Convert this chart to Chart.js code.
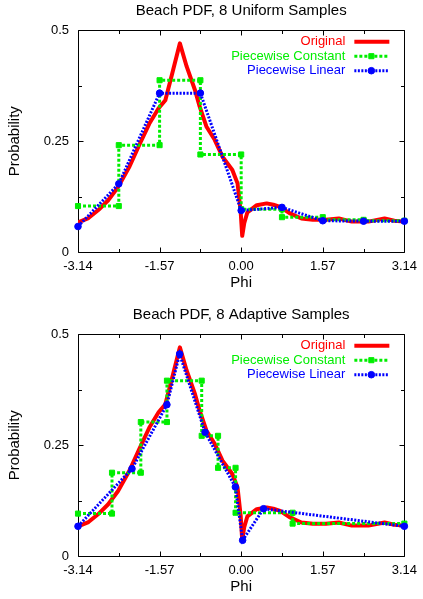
<!DOCTYPE html>
<html>
<head>
<meta charset="utf-8">
<script src="https://cdn.jsdelivr.net/npm/chart.js@4/dist/chart.umd.min.js"></script>
<style>
    html, body { margin: 0; padding: 0; background: #fff; overflow: hidden; }
    .grafico { position: absolute; left: 0; width: 423px; height: 300px; }
</style>
</head>
<body>
<div class="grafico" style="top:0"><canvas id="uniforme"></canvas></div>
<div class="grafico" style="top:304px"><canvas id="adaptativo"></canvas></div>
<script>
// curva original
const originalPhi = [-3.1416, -2.94, -2.75, -2.56, -2.37, -2.15, -1.96, -1.77, -1.59, -1.46, -1.33, -1.18, -1.05, -0.89, -0.80, -0.67, -0.51, -0.36, -0.17, -0.07, -0.01, 0.02, 0.06, 0.12, 0.30, 0.49, 0.62, 0.75, 0.93, 1.16, 1.38, 1.63, 1.88, 2.13, 2.45, 2.76, 2.95, 3.1416];
const originalProb = [0.067, 0.077, 0.095, 0.117, 0.147, 0.193, 0.242, 0.289, 0.324, 0.342, 0.401, 0.470, 0.418, 0.365, 0.328, 0.283, 0.253, 0.215, 0.185, 0.155, 0.092, 0.037, 0.066, 0.090, 0.106, 0.110, 0.107, 0.102, 0.088, 0.076, 0.073, 0.073, 0.076, 0.069, 0.069, 0.076, 0.071, 0.069];

// 8 amostras uniformes
const uniformeBordas = [-3.1416, -2.3562, -1.5708, -0.7854, 0, 0.7854, 1.5708, 2.3562, 3.1416];
const uniformeConstante = [0.104, 0.241, 0.387, 0.220, 0.097, 0.079, 0.073, 0.071];
const uniformeLinearPhi = [-3.1416, -2.3562, -1.5708, -0.7854, 0, 0.7854, 1.5708, 2.3562, 3.1416];
const uniformeLinearProb = [0.058, 0.154, 0.358, 0.358, 0.094, 0.101, 0.071, 0.070, 0.070];

// 8 amostras adaptativas
const adaptativoBordas = [-3.1416, -2.487, -1.932, -1.429, -0.760, -0.445, -0.108, 0.990, 3.1416];
const adaptativoConstante = [0.096, 0.188, 0.302, 0.395, 0.271, 0.199, 0.098, 0.0735];
const adaptativoLinearPhi = [-3.1416, -2.102, -1.43, -1.185, -0.695, -0.112, 0.028, 0.431, 3.1416];
const adaptativoLinearProb = [0.0675, 0.197, 0.341, 0.455, 0.279, 0.156, 0.036, 0.107, 0.0675];

// eixos
const phiMarcas = [-3.1416, -2.3562, -1.5708, -0.7854, 0, 0.7854, 1.5708, 2.3562, 3.1416];
const phiRotulos = [-3.1416, -1.5708, 0, 1.5708, 3.1416];
const probMarcas = [0, 0.125, 0.25, 0.375, 0.5];
const probRotulos = [0, 0.25, 0.5];

const FONTE = "'Liberation Sans', Arial, Helvetica, sans-serif";
Chart.defaults.font.family = FONTE;
Chart.defaults.color = '#000';

function pares(xs, ys) {
    return xs.map((x, i) => ({ x: x, y: ys[i] }));
}

function degraus(bordas, valores) {
    const pontos = [];
    valores.forEach((v, i) => {
        pontos.push({ x: bordas[i], y: v });
        pontos.push({ x: bordas[i + 1], y: v });
    });
    return pontos;
}

// moldura e marcas internas, estilo gnuplot
const moldura = {
    id: 'moldura',
    beforeDatasetsDraw(chart) {
        const { ctx, chartArea: a, scales } = chart;
        const l = Math.round(a.left) + 0.5, r = Math.round(a.right) + 0.5;
        const t = Math.round(a.top) + 0.5, b = Math.round(a.bottom) + 0.5;
        ctx.save();
        ctx.strokeStyle = '#000';
        ctx.lineWidth = 1;
        ctx.beginPath();
        phiMarcas.forEach(v => {
            const px = Math.round(scales.x.getPixelForValue(v)) + 0.5;
            const tam = phiRotulos.includes(v) ? 5 : 3.5;
            ctx.moveTo(px, b); ctx.lineTo(px, b - tam);
            ctx.moveTo(px, t); ctx.lineTo(px, t + tam);
        });
        probMarcas.forEach(v => {
            const py = Math.round(scales.y.getPixelForValue(v)) + 0.5;
            const tam = probRotulos.includes(v) ? 5 : 3.5;
            ctx.moveTo(l, py); ctx.lineTo(l + tam, py);
            ctx.moveTo(r, py); ctx.lineTo(r - tam, py);
        });
        ctx.rect(l, t, r - l, b - t);
        ctx.stroke();
        ctx.restore();
    }
};

// legenda dentro da area, texto alinhado a direita
const legendaInterna = {
    id: 'legendaInterna',
    afterDatasetsDraw(chart) {
        const { ctx, chartArea: a } = chart;
        ctx.save();
        ctx.font = '13px ' + FONTE;
        ctx.textAlign = 'right';
        ctx.textBaseline = 'middle';
        chart.data.datasets.forEach((ds, i) => {
            const y = a.top + 11.7 + i * 14.5;
            ctx.fillStyle = ds.borderColor;
            ctx.fillText(ds.label, a.right - 59, y);
            ctx.strokeStyle = ds.borderColor;
            ctx.lineWidth = ds.borderWidth;
            ctx.setLineDash(ds.borderDash || []);
            ctx.beginPath();
            ctx.moveTo(a.right - 50, y);
            ctx.lineTo(a.right - 15, y);
            ctx.stroke();
            ctx.setLineDash([]);
            if (ds.pointRadius > 0) {
                const cx = a.right - 33;
                ctx.fillStyle = ds.borderColor;
                ctx.lineWidth = 1;
                ctx.beginPath();
                if (ds.pointStyle === 'rect') {
                    const s = ds.pointRadius * Math.SQRT1_2;
                    ctx.rect(cx - s, y - s, 2 * s, 2 * s);
                } else {
                    ctx.arc(cx, y, ds.pointRadius, 0, Math.PI * 2);
                }
                ctx.fill();
                ctx.stroke();
            }
        });
        ctx.restore();
    }
};

function criarGrafico(idCanvas, titulo, constante, linear) {
    const ctx = document.getElementById(idCanvas).getContext('2d');
    return new Chart(ctx, {
        type: 'line',
        data: {
            datasets: [{
                label: 'Original',
                data: pares(originalPhi, originalProb),
                borderColor: '#ff0000',
                borderWidth: 4,
                borderJoinStyle: 'round',
                borderCapStyle: 'round',
                pointRadius: 0,
                tension: 0,
                order: 3
            }, {
                label: 'Piecewise Constant',
                data: constante,
                borderColor: '#00ee00',
                backgroundColor: '#00ee00',
                borderWidth: 3,
                borderDash: [3, 2],
                pointStyle: 'rect',
                pointRadius: 3.6,
                pointBorderWidth: 1,
                tension: 0,
                clip: false,
                order: 2
            }, {
                label: 'Piecewise Linear',
                data: linear,
                borderColor: '#0000ff',
                backgroundColor: '#0000ff',
                borderWidth: 3,
                borderDash: [2, 1.5],
                pointStyle: 'circle',
                pointRadius: 3.3,
                pointBorderWidth: 1,
                tension: 0,
                clip: false,
                order: 1
            }]
        },
        options: {
            responsive: true,
            maintainAspectRatio: false,
            animation: false,
            layout: { padding: { left: 6, right: 13, top: 0, bottom: 0 } },
            plugins: {
                legend: { display: false },
                tooltip: { enabled: false },
                title: {
                    display: true,
                    text: titulo,
                    fullSize: false,
                    color: '#000',
                    font: { size: 15, weight: 'normal' },
                    padding: { top: 2, bottom: 10 }
                }
            },
            scales: {
                x: {
                    type: 'linear',
                    min: -3.1416,
                    max: 3.1416,
                    grid: { display: false, drawTicks: false },
                    border: { display: false },
                    afterBuildTicks: s => { s.ticks = phiRotulos.map(v => ({ value: v })); },
                    afterFit: s => { s.height = 47.7; },
                    ticks: {
                        callback: v => v.toFixed(2),
                        padding: 6,
                        maxRotation: 0,
                        autoSkip: false,
                        color: '#000',
                        font: { size: 13 }
                    },
                    title: {
                        display: true,
                        text: 'Phi',
                        color: '#000',
                        font: { size: 15 },
                        padding: { top: 0, bottom: 8 }
                    }
                },
                y: {
                    min: 0,
                    max: 0.5,
                    grid: { display: false, drawTicks: false },
                    border: { display: false },
                    afterBuildTicks: s => { s.ticks = probRotulos.map(v => ({ value: v })); },
                    afterFit: s => { s.width = 72; },
                    ticks: {
                        callback: v => String(v),
                        padding: 9,
                        color: '#000',
                        font: { size: 13 }
                    },
                    title: {
                        display: true,
                        text: 'Probability',
                        color: '#000',
                        font: { size: 15 },
                        padding: { top: 0, bottom: 0 }
                    }
                }
            }
        },
        plugins: [moldura, legendaInterna]
    });
}

criarGrafico('uniforme', 'Beach PDF, 8 Uniform Samples',
    degraus(uniformeBordas, uniformeConstante),
    pares(uniformeLinearPhi, uniformeLinearProb));

criarGrafico('adaptativo', 'Beach PDF, 8 Adaptive Samples',
    degraus(adaptativoBordas, adaptativoConstante),
    pares(adaptativoLinearPhi, adaptativoLinearProb));
</script>
</body>
</html>
